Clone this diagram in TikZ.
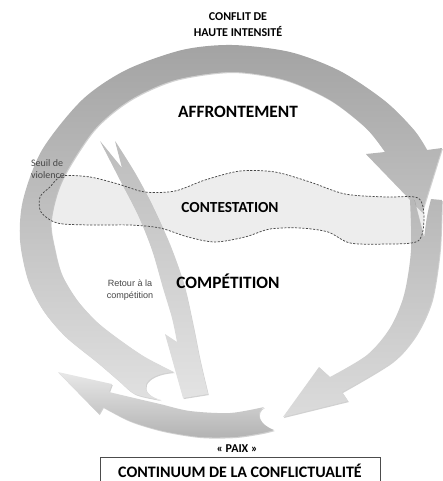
\documentclass[tikz,border=0pt]{standalone}
\usepackage{fontspec}
\setmainfont{Carlito}
\newfontfamily\arialfont{Liberation Sans}
\usetikzlibrary{shadows}

\begin{document}
\begin{tikzpicture}[x=0.75pt,y=-0.75pt]
\tikzstyle{every node}+=[inner sep=0pt]
\tikzstyle{fleche}=[drop shadow={shadow xshift=0.6pt,shadow yshift=-0.8pt,opacity=0.3,fill=black!60}]
\tikzstyle{titre}=[font=\bfseries\fontsize{13}{15}\selectfont,text=black]
\tikzstyle{petit}=[font=\fontsize{7.5}{9}\selectfont,text=black!72,align=left]
\tikzstyle{seuil}=[black!72,line width=0.55pt,dash pattern=on 1.6pt off 1.1pt]
\useasboundingbox (0,0) rectangle (442,481);
% zone de contestation
\fill [black!7] plot [smooth cycle] coordinates {(62,176) (90,177) (118,184) (145,192) (175,191) (205,180) (240,171) (275,172) (310,182) (345,194) (385,197) (418,198) (424,218) (418,241) (385,244) (350,243) (328,232) (300,228) (270,229) (245,237) (215,242) (188,237) (160,228) (130,225) (90,225) (57,223) (41,212) (40,197) (50,187)};
% retour a la competition
\path [fleche,top color=black!26,bottom color=black!11] (100,141) -- (122,168) -- (115,141)
  -- plot [smooth] coordinates {(115,141) (135,173) (152,205) (170,245) (184,285) (193,325) (200,360) (208,394)}
  -- (183,398) -- (165,334)
  -- plot [smooth] coordinates {(177,342) (172,318) (163,288) (152,250) (138,215) (120,180) (100,141)} -- cycle;
% grande fleche
\path [fleche,top color=black!36,bottom color=black!12]
  plot [smooth] coordinates {(161,400) (135,394) (118,380) (97,362) (65,336) (43,310) (28,280) (20,240) (23,200) (42,150) (82,100) (126,70) (182,50) (232,45) (290,52) (340,71) (385,101) (414,130) (427,150)}
  -- (442,148) -- (422,212) -- (366,154)
  -- plot [smooth] coordinates {(385,152) (366,128) (330,100) (285,80) (232,72) (175,80) (130,100) (94,130) (62,180) (51,220) (55,250) (62,275) (77,300) (97,322) (120,340) (145,357) (174,372)}
  .. controls (142,374) and (136,393) .. (161,400) -- cycle;
% fleche de droite
\path [fleche,top color=black!28,bottom color=black!14] (442,200)
  -- plot [smooth] coordinates {(442,200) (440,250) (432,300) (416,335) (392,362) (342,392)}
  -- (348,401) -- (283,417) -- (319,367)
  -- plot [smooth] coordinates {(330,377) (367,355) (390,328) (404,295) (411,250) (410,200)}
  -- (414,199) .. controls (418,215) .. (424,238) .. controls (427,215) .. (431,199) -- cycle;
% fleche du bas
\path [fleche,top color=black!9,bottom color=black!30] (264,407)
  -- plot [smooth] coordinates {(264,407) (230,413) (190,411) (160,404) (130,397) (109,392)}
  -- (112,384) -- (58,372) -- (99,414)
  -- plot [smooth] coordinates {(103,407) (130,421) (163,431) (200,437) (235,437) (262,433) (274,430)}
  .. controls (258,424) and (255,412) .. (264,407) -- cycle;
% seuil de violence
\draw [seuil] plot [smooth cycle] coordinates {(62,176) (90,177) (118,184) (145,192) (175,191) (205,180) (240,171) (275,172) (310,182) (345,194) (385,197) (418,198) (424,218) (418,241) (385,244) (350,243) (328,232) (300,228) (270,229) (245,237) (215,242) (188,237) (160,228) (130,225) (90,225) (57,223) (41,212) (40,197) (50,187)};
\node (conflit) [font=\bfseries\fontsize{9}{12}\selectfont,align=center] at (238,25) {CONFLIT DE\\HAUTE INTENSITÉ};
\node (affront) [titre] at (238,112) {AFFRONTEMENT};
\node (contest) [titre,font=\bfseries\fontsize{11.5}{13}\selectfont] at (230,208) {CONTESTATION};
\node (compet) [titre] at (228,281) {COMPÉTITION};
\node (seuillbl) [petit] at (48,169) {Seuil de\\violence};
\node (retour) [petit,font=\arialfont\fontsize{6.8}{8.5}\selectfont,align=center] at (130,290) {Retour à la\\compétition};
\node (paix) [font=\bfseries\fontsize{9}{10}\selectfont] at (237,449) {« PAIX »};
\node (continuum) [draw=black!70,fill=white,line width=0.6pt,minimum width=210pt,minimum height=20pt,font=\bfseries\fontsize{12}{14}\selectfont] at (240,471) {CONTINUUM DE LA CONFLICTUALITÉ};
\end{tikzpicture}
\end{document}
